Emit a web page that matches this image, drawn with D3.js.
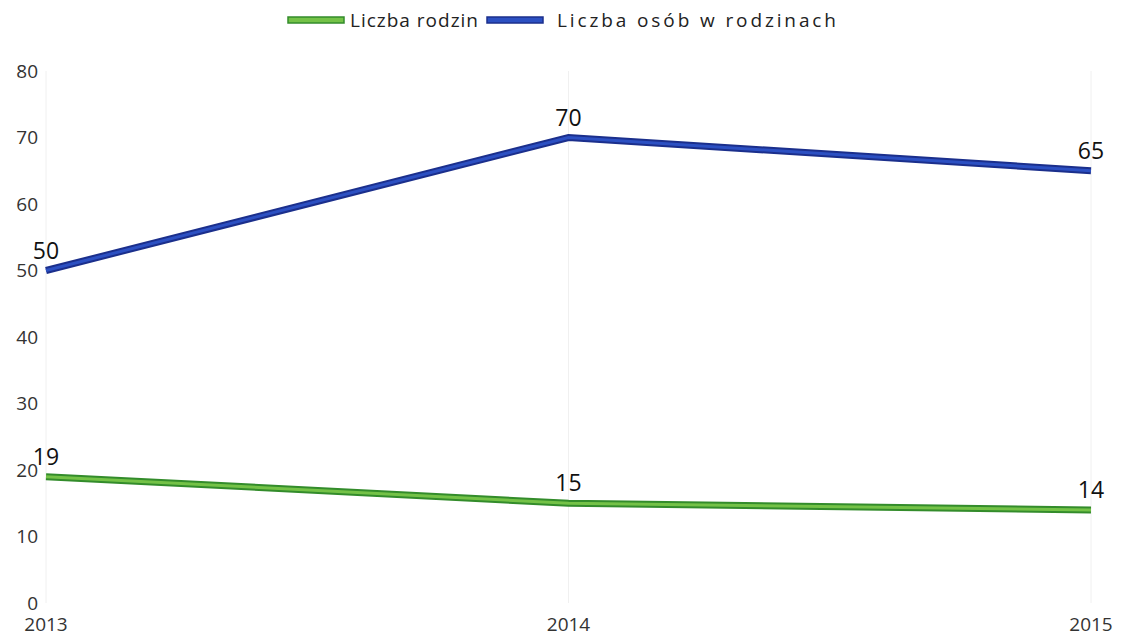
<!DOCTYPE html>
<html>
<head>
<meta charset="utf-8">
<script src="https://cdn.jsdelivr.net/npm/d3@7"></script>
<style>
  body { margin: 0; background: #fff; }
  svg { font-family: "Open Sans", "DejaVu Sans", sans-serif; }
</style>
</head>
<body>
<div id="chart"></div>
<script>
const width = 1136
const height = 636
const margin = { left: 46, right: 45, top: 71, bottom: 33 }

const years = ["2013", "2014", "2015"]
const rodziny = [19, 15, 14]
const osoby = [50, 70, 65]
const yTicks = [0, 10, 20, 30, 40, 50, 60, 70, 80]

const series = [
    { name: "Liczba rodzin", values: rodziny, fill: "#74c247", edge: "#338c2b" },
    { name: "Liczba osób w rodzinach", values: osoby, fill: "#2c50c2", edge: "#1b2f8c" }
]

const svg = d3.select("#chart").append("svg").attr("width", width).attr("height", height)

const x = d3.scalePoint().domain(years).range([margin.left, width - margin.right])
const y = d3.scaleLinear().domain([0, 80]).range([height - margin.bottom, margin.top])

// faint vertical grid
svg.append("g").selectAll("line")
    .data(years)
    .join("line")
        .attr("x1", d => x(d)).attr("x2", d => x(d))
        .attr("y1", y(80)).attr("y2", y(0))
        .attr("stroke", "#f0f0f0")
        .attr("stroke-width", 1)

// y tick labels
svg.append("g").selectAll("text")
    .data(yTicks)
    .join("text")
        .text(d => d)
        .attr("x", 38)
        .attr("y", d => y(d))
        .attr("dy", "0.35em")
        .attr("text-anchor", "end")
        .attr("font-size", 19)
        .attr("fill", "#333")

// x tick labels
svg.append("g").selectAll("text")
    .data(years)
    .join("text")
        .text(d => d)
        .attr("x", d => x(d))
        .attr("y", 631)
        .attr("text-anchor", "middle")
        .attr("font-size", 19)
        .attr("fill", "#333")

const line = d3.line().x((d, i) => x(years[i])).y(d => y(d))

series.forEach(s => {
    svg.append("path")
        .attr("d", line(s.values))
        .attr("fill", "none")
        .attr("stroke", s.edge)
        .attr("stroke-width", 7)
    svg.append("path")
        .attr("d", line(s.values))
        .attr("fill", "none")
        .attr("stroke", s.fill)
        .attr("stroke-width", 3)

    svg.append("g").selectAll("text")
        .data(s.values)
        .join("text")
            .text(d => d)
            .attr("x", (d, i) => x(years[i]))
            .attr("y", d => y(d) - 12)
            .attr("text-anchor", "middle")
            .attr("font-size", 23)
            .attr("fill", "#111")
})

// legend
const legend = svg.append("g")
const legendItems = [
    { s: series[0], x: 288, tx: 350, len: 128 },
    { s: series[1], x: 487, tx: 557, len: 279 }
]
legendItems.forEach(l => {
    legend.append("rect")
        .attr("x", l.x).attr("y", 17)
        .attr("width", 56).attr("height", 6)
        .attr("fill", l.s.fill)
        .attr("stroke", l.s.edge)
        .attr("stroke-width", 1.5)
    legend.append("text")
        .text(l.s.name)
        .attr("x", l.tx)
        .attr("y", 27)
        .attr("font-size", 19)
        .attr("textLength", l.len)
        .attr("lengthAdjust", "spacing")
        .attr("fill", "#222")
})
</script>
</body>
</html>
